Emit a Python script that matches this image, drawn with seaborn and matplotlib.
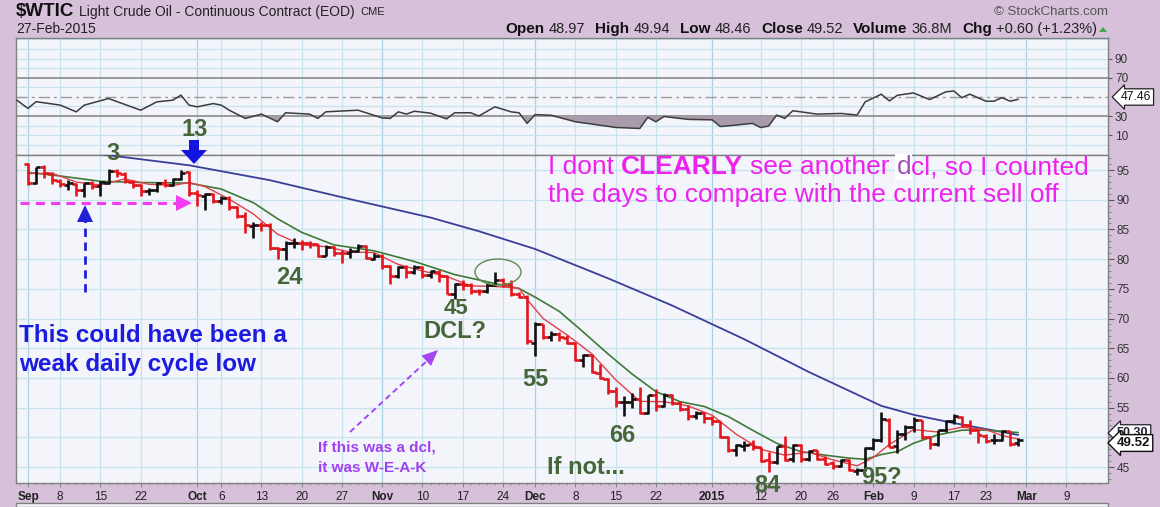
import matplotlib
matplotlib.use("Agg")
import matplotlib.pyplot as plt
import numpy as np
import pandas as pd
import seaborn as sns
from matplotlib.patches import Polygon, Ellipse, Rectangle
from matplotlib.lines import Line2D

# ---------------- data ----------------
prev_close = 95.96  # close before the first bar

sep_open = [95.95, 92.9, 95.5, 94.3, 93.2, 92.5, 92.7, 91.6, 92.8, 92.3, 92.9, 94.8, 94.3, 93.0, 92.4, 91.5, 91.6, 92.8, 92.5, 93.5, 94.6]
sep_high = [96.14, 95.59, 95.8, 94.7, 93.5, 93.3, 92.9, 92.9, 93.2, 93.1, 95.1, 95.2, 94.6, 93.4, 92.6, 92.0, 93.0, 93.5, 93.7, 95.0, 94.9]
sep_low = [92.51, 92.7, 93.7, 92.6, 92.2, 91.6, 90.6, 90.4, 91.8, 90.6, 92.6, 93.9, 92.9, 91.9, 90.6, 90.8, 91.3, 92.2, 92.3, 93.3, 90.7]
sep_close = [92.88, 95.54, 94.45, 93.29, 92.66, 92.75, 91.67, 92.83, 92.27, 92.92, 94.88, 94.42, 93.07, 92.41, 91.52, 91.56, 92.80, 92.53, 93.54, 94.57, 91.16]

oct_open = [91.2, 90.7, 90.9, 89.8, 90.3, 88.8, 87.3, 85.6, 85.8, 85.7, 81.8, 81.7, 82.7, 82.7, 82.7, 82.5, 80.6, 82.1, 81.0, 81.0, 81.4, 82.2, 80.1]
oct_high = [91.6, 91.2, 91.2, 90.7, 90.6, 89.0, 88.0, 86.2, 86.3, 86.0, 82.1, 83.0, 83.6, 83.3, 83.0, 82.6, 82.3, 82.2, 81.6, 81.8, 82.5, 82.4, 81.1]
oct_low = [88.9, 88.2, 89.4, 89.2, 88.3, 86.9, 84.4, 83.6, 84.8, 81.6, 80.0, 79.8, 81.8, 81.6, 81.8, 80.3, 80.5, 80.6, 79.4, 80.2, 81.2, 80.0, 79.9]
oct_close = [90.73, 91.01, 89.74, 90.34, 88.85, 87.31, 85.77, 85.82, 85.74, 81.84, 81.78, 82.70, 82.75, 82.71, 82.49, 80.52, 82.09, 81.01, 81.00, 81.42, 82.20, 80.12, 80.54]

nov_open = [80.5, 78.8, 77.2, 78.7, 77.9, 78.6, 77.4, 77.9, 77.2, 74.2, 75.8, 75.6, 74.6, 74.6, 75.6, 76.5, 75.8, 74.1, 73.7]
nov_high = [80.8, 79.0, 78.9, 79.0, 79.0, 78.9, 78.2, 78.1, 77.3, 76.0, 76.5, 75.9, 75.0, 76.0, 77.8, 76.9, 76.5, 74.5, 73.9]
nov_low = [78.3, 75.8, 76.8, 76.8, 77.5, 76.9, 76.8, 76.2, 74.1, 73.25, 74.8, 74.1, 74.0, 74.3, 75.4, 75.3, 73.8, 73.4, 65.7]
nov_close = [78.78, 77.19, 78.68, 77.91, 78.65, 77.40, 77.94, 77.18, 74.21, 75.82, 75.64, 74.61, 74.58, 75.58, 76.51, 75.78, 74.09, 73.69, 66.15]

dec_open = [65.9, 69.0, 66.9, 67.4, 66.8, 65.8, 63.0, 63.8, 60.9, 59.9, 57.8, 55.9, 55.9, 56.5, 54.1, 57.1, 55.3, 57.1, 55.8, 54.7, 53.6, 54.1]
dec_high = [69.4, 69.1, 67.9, 67.7, 67.2, 66.0, 64.1, 64.0, 62.4, 60.0, 58.5, 56.9, 57.4, 58.5, 57.2, 58.2, 57.4, 57.3, 56.1, 55.4, 54.4, 54.2]
dec_low = [63.7, 66.6, 66.3, 66.2, 65.7, 62.8, 61.9, 60.8, 59.8, 57.3, 55.1, 53.6, 54.9, 54.0, 54.0, 54.4, 55.1, 55.5, 54.5, 52.9, 53.1, 52.4]
dec_close = [69.00, 66.88, 67.38, 66.81, 65.84, 63.05, 63.82, 60.94, 59.95, 57.81, 55.91, 55.93, 56.47, 54.11, 57.13, 55.26, 57.12, 55.84, 54.73, 53.61, 54.12, 53.27]

jan_open = [53.3, 52.7, 50.0, 47.9, 48.6, 48.8, 48.4, 46.1, 45.9, 48.5, 46.3, 48.7, 46.4, 47.8, 46.3, 45.6, 45.2, 46.2, 44.4, 44.5]
jan_high = [53.6, 52.7, 50.2, 48.9, 49.3, 49.6, 48.4, 47.5, 48.6, 50.2, 48.8, 48.8, 47.9, 47.9, 46.8, 46.0, 46.4, 46.3, 44.9, 48.3]
jan_low = [52.0, 49.9, 47.5, 46.8, 47.7, 47.8, 45.9, 44.2, 45.5, 46.0, 45.8, 45.8, 46.0, 46.2, 45.3, 44.6, 45.0, 44.3, 43.6, 44.4]
jan_close = [52.69, 50.04, 47.93, 48.65, 48.79, 48.36, 46.07, 45.89, 48.48, 46.25, 48.69, 46.39, 47.78, 46.31, 45.59, 45.15, 46.23, 44.45, 44.53, 48.24]

feb_open = [48.2, 49.6, 53.0, 48.5, 50.5, 51.7, 52.9, 50.0, 48.8, 51.2, 52.8, 53.5, 52.1, 51.2, 50.3, 49.5, 49.6, 51.0, 48.97]
feb_high = [49.9, 54.2, 53.3, 51.3, 52.0, 53.5, 53.0, 50.2, 51.3, 53.0, 54.0, 53.6, 52.9, 51.4, 50.6, 50.5, 51.3, 51.0, 49.94]
feb_low = [47.8, 49.2, 48.4, 47.3, 49.6, 50.9, 49.7, 48.0, 48.6, 50.9, 52.3, 51.7, 50.6, 49.1, 49.0, 48.8, 49.3, 48.5, 48.46]
feb_close = [49.57, 53.05, 48.45, 50.48, 51.69, 52.86, 50.02, 48.84, 51.21, 52.78, 53.53, 52.14, 51.16, 50.34, 49.45, 49.61, 50.99, 48.92, 49.52]

# moving averages (trading-day index, value)
red_idx = [0, 3, 6, 9, 12, 15, 18, 20, 22, 25, 28, 31, 34, 37, 40, 43, 46, 49, 52, 55, 58, 61, 62, 64, 67, 70, 73, 76, 79, 82, 85, 88, 91, 94, 97, 100, 103, 105, 107, 110, 113, 116, 119, 121, 123]
red_val = [94.4, 94.46, 92.96, 92.49, 93.5, 92.6, 92.4, 92.9, 92.2, 90.1, 87.6, 84.2, 82.4, 82.1, 81.2, 81.1, 79.1, 78.0, 77.1, 75.5, 75.4, 75.1, 73.2, 70.0, 67.2, 64.1, 59.7, 56.05, 56.0, 55.3, 53.7, 50.5, 48.0, 47.0, 47.5, 46.2, 45.2, 46.6, 48.8, 51.3, 50.9, 51.7, 51.3, 50.3, 49.7]
green_idx = [0, 4, 9, 14, 20, 24, 28, 31, 34, 38, 43, 48, 53, 58, 61, 63, 66, 69, 72, 75, 78, 81, 84, 87, 90, 93, 96, 99, 102, 104, 106, 108, 110, 113, 116, 119, 121, 123]
green_val = [94.6, 94.0, 93.1, 92.9, 92.8, 91.8, 89.5, 86.8, 84.5, 82.4, 81.4, 79.6, 77.4, 75.9, 75.05, 73.6, 71.2, 67.7, 64.1, 60.7, 57.7, 56.0, 55.2, 53.5, 51.2, 49.0, 47.6, 47.0, 46.5, 46.3, 47.1, 47.6, 49.0, 50.4, 51.2, 51.2, 51.0, 50.8]
blue_idx = [0, 7, 20, 30, 40, 50, 56, 63, 72, 80, 89, 97, 106, 110, 115, 119, 123]
blue_val = [99.3, 98.0, 95.8, 93.3, 90.1, 87.0, 84.7, 81.7, 76.8, 72.2, 66.5, 61.0, 55.3, 53.8, 52.4, 51.4, 50.4]

# RSI (14)
rsi_idx = [-1.4, 0, 1, 4, 6, 7, 10, 14, 16, 18, 19, 20, 21, 23, 24, 25, 27, 29, 31, 32, 35, 36, 37, 41, 44, 45, 46, 47, 48, 50, 52, 53, 55, 56, 58, 60, 61, 62, 63, 65, 68, 73, 76, 77, 78, 79, 82, 85, 86, 88, 90, 91, 92, 93, 94, 95, 96, 98, 101, 103, 104, 106, 107, 108, 110, 112, 114, 115, 116, 117, 119, 120, 121, 122, 123]
rsi_val = [46.6, 38.0, 45.0, 41.4, 34.4, 41.4, 48.3, 36.1, 44.8, 46.6, 51.8, 41.4, 39.6, 43.0, 41.4, 36.1, 27.5, 32.0, 24.0, 33.4, 32.0, 27.5, 34.4, 36.1, 28.0, 27.5, 34.4, 32.0, 35.0, 33.0, 27.0, 33.4, 33.4, 30.0, 39.6, 34.4, 33.4, 22.3, 31.5, 30.8, 24.0, 18.1, 17.0, 28.6, 24.0, 29.5, 26.5, 26.0, 19.0, 20.6, 22.3, 18.0, 19.5, 31.0, 27.5, 35.5, 34.4, 32.0, 32.7, 31.0, 44.8, 52.8, 45.8, 51.7, 54.1, 47.2, 55.2, 56.2, 49.2, 52.8, 45.5, 45.5, 49.2, 45.5, 47.46]

# x-axis labels (trading-day index of each label)
tick_idx = [0, 4, 9, 14, 21, 24, 29, 34, 39, 44, 49, 54, 59, 63, 68, 73, 78, 85, 91, 96, 100, 105, 110, 115, 119, 124, 129]
tick_lab = ["Sep", "8", "15", "22", "Oct", "6", "13", "20", "27", "Nov", "10", "17", "24", "Dec", "8", "15", "22", "2015", "12", "20", "26", "Feb", "9", "17", "23", "Mar", "9"]
month_lab = {"Sep", "Oct", "Nov", "Dec", "2015", "Feb", "Mar"}

price_ticks = [45, 55, 60, 65, 70, 75, 80, 85, 90, 95]
rsi_ticks = [10, 30, 70, 90]

opens = sep_open + oct_open + nov_open + dec_open + jan_open + feb_open
highs = sep_high + oct_high + nov_high + dec_high + jan_high + feb_high
lows = sep_low + oct_low + nov_low + dec_low + jan_low + feb_low
closes = sep_close + oct_close + nov_close + dec_close + jan_close + feb_close

# ---------------- style ----------------
sns.set_theme(style="white")
plt.rcParams['font.family'] = ['Liberation Sans', 'DejaVu Sans']

W, H = 1160, 507
BG = '#D6C0DA'
PANEL = '#F3F5FB'
GRID = '#C6E4EE'
GRID_M = '#A9D3E2'
GREEN_T = '#46663A'

fig = plt.figure(figsize=(W / 100, H / 100), dpi=100, facecolor=BG)


def fx(x):
    return x / W


def fy(y):
    return 1 - y / H


L, R = 16, 1108
T_RSI, B_RSI, B_MAIN = 38, 155, 483
X0, DX = 28.0, 8.05
xl = ((L - X0) / DX, (R - X0) / DX)

ax_rsi = fig.add_axes([fx(L), fy(B_RSI), (R - L) / W, (B_RSI - T_RSI) / H])
ax = fig.add_axes([fx(L), fy(B_MAIN), (R - L) / W, (B_MAIN - B_RSI) / H])

for a in (ax, ax_rsi):
    a.set_facecolor(PANEL)
    a.set_xlim(*xl)
    for s in a.spines.values():
        s.set_color('#808080')
        s.set_linewidth(1.0)
    for ti, lab in zip(tick_idx, tick_lab):
        a.axvline(ti, color=GRID_M if lab in month_lab else GRID, lw=0.9, zorder=0)

# ---------------- price panel ----------------
ax.set_ylim(42.31, 97.53)
for v in range(45, 100, 5):
    ax.axhline(v, color=GRID, lw=0.9, zorder=0)

idx = np.arange(len(closes))
prev = np.r_[prev_close, closes[:-1]]
cols = np.where(np.array(closes) >= prev, '#111111', '#E3161C')
ax.vlines(idx, lows, highs, colors=cols, lw=1.9, zorder=4)
ax.hlines(opens, idx - 0.55, idx, colors=cols, lw=1.9, zorder=4)
ax.hlines(closes, idx, idx + 0.55, colors=cols, lw=1.9, zorder=4)

sns.lineplot(x=blue_idx, y=blue_val, ax=ax, color='#3A3E96', lw=1.3, zorder=3)
sns.lineplot(x=green_idx, y=green_val, ax=ax, color='#3F7A35', lw=1.2, zorder=3)
sns.lineplot(x=red_idx, y=red_val, ax=ax, color='#E0404A', lw=1.0, zorder=3)

ax.yaxis.tick_right()
ax.set_yticks(price_ticks)
ax.set_yticklabels([str(t) for t in price_ticks])
ax.set_yticks(np.arange(43, 98, 1), minor=True)
ax.tick_params(axis='y', which='major', right=True, length=4, width=0.8, color='#555',
               labelsize=8.5, labelcolor='#333', pad=2)
ax.tick_params(axis='y', which='minor', right=True, length=2, width=0.6, color='#777')
ax.set_xticks(tick_idx)
ax.set_xticklabels(tick_lab)
ax.set_xticks(np.arange(-1, 134, 1), minor=True)
ax.tick_params(axis='x', which='major', bottom=True, length=3, width=0.6, color='#777',
               labelsize=8.5, labelcolor='#222', pad=3)
ax.tick_params(axis='x', which='minor', bottom=True, length=1.5, width=0.5, color='#888')
for t in ax.get_xticklabels():
    if t.get_text() in month_lab:
        t.set_fontweight('bold')
ax.set_xlabel('')
ax.set_ylabel('')

# ---------------- RSI panel ----------------
ax_rsi.set_ylim(-10.7, 111.5)
for v in range(0, 111, 10):
    if v not in (30, 50, 70):
        ax_rsi.axhline(v, color=GRID, lw=0.9, zorder=0)
ax_rsi.axhline(70, color='#8A8A8A', lw=1.2, zorder=1)
ax_rsi.axhline(30, color='#8A8A8A', lw=1.2, zorder=1)
ax_rsi.axhline(50, color='#9A9A9A', lw=1.0, ls=(0, (8, 3, 2, 3)), zorder=1)
r_i = np.array(rsi_idx, dtype=float)
r_v = np.array(rsi_val, dtype=float)
ax_rsi.fill_between(r_i, r_v, 30, where=r_v < 30, interpolate=True, color='#AA9BAC', lw=0, zorder=2)
sns.lineplot(x=rsi_idx, y=rsi_val, ax=ax_rsi, color='#3C3C3C', lw=1.1, zorder=3)
ax_rsi.yaxis.tick_right()
ax_rsi.set_yticks(rsi_ticks)
ax_rsi.set_yticklabels([str(t) for t in rsi_ticks])
ax_rsi.tick_params(axis='y', right=True, length=3, width=0.8, color='#555', labelsize=8.5,
                   labelcolor='#333', pad=2)
ax_rsi.set_xticks([])
ax_rsi.set_xlabel('')
ax_rsi.set_ylabel('')

# bottom (next panel) strip
fig.add_artist(Rectangle((fx(L), 0), (R - L) / W, 4 / H, transform=fig.transFigure,
                         fc=PANEL, ec='#808080', lw=1.0))

renderer = fig.canvas.get_renderer()


def seq(parts, x, y, align='left'):
    arts, widths = [], []
    for s, kw, gap in parts:
        t = fig.text(0, fy(y), s, va='center', ha='left', parse_math=False, **kw)
        bb = t.get_window_extent(renderer=renderer)
        arts.append(t)
        widths.append(bb.width + gap)
    total = sum(widths)
    cur = x if align == 'left' else x - total
    for t, w in zip(arts, widths):
        t.set_x(fx(cur))
        cur += w
    return cur


# ---------------- header ----------------
seq([("$WTIC", dict(fontsize=13.5, fontweight='bold', color='#111'), 5),
     ("Light Crude Oil - Continuous Contract (EOD)", dict(fontsize=10, color='#222'), 5),
     ("CME", dict(fontsize=8, color='#222'), 0)], 16, 12)
fig.text(fx(16), fy(29), "27-Feb-2015", fontsize=10, color='#222', va='center', ha='left')
fig.text(fx(1108), fy(12), "\u00a9 StockCharts.com", fontsize=9.5, color='#555', va='center', ha='right')
B = dict(fontsize=11, fontweight='bold', color='#111')
N = dict(fontsize=10.5, color='#222')
seq([("Open", B, 4), ("48.97", N, 10), ("High", B, 4), ("49.94", N, 10),
     ("Low", B, 4), ("48.46", N, 10), ("Close", B, 4), ("49.52", N, 10),
     ("Volume", B, 4), ("36.8M", N, 10), ("Chg", B, 4), ("+0.60 (+1.23%)", N, 0)], 1097, 29, align='right')
fig.add_artist(Polygon([(fx(1099), fy(32)), (fx(1107), fy(32)), (fx(1103), fy(27))], closed=True,
                       transform=fig.transFigure, fc='#3DAA4A', ec='none'))

# right-hand value boxes
fig.text(fx(1121), fy(97), "47.46", fontsize=8.8, color='#111', va='center', ha='left',
         bbox=dict(boxstyle='larrow,pad=0.18', fc='white', ec='#222', lw=0.9))
fig.text(fx(1117), fy(433), "50.30", fontsize=9, fontweight='bold', color='#223', va='center', ha='left',
         bbox=dict(boxstyle='larrow,pad=0.18', fc='white', ec='#223', lw=0.9))
fig.text(fx(1117), fy(443), "49.52", fontsize=9.5, fontweight='bold', color='#111', va='center', ha='left',
         bbox=dict(boxstyle='larrow,pad=0.18', fc='white', ec='#111', lw=1.0))

# ---------------- annotations ----------------
GB = dict(fontsize=17, fontweight='bold', color=GREEN_T, ha='center', va='center')
fig.text(fx(113), fy(153), "3", **GB)
fig.text(fx(195), fy(129), "13", **GB)
fig.text(fx(289), fy(277), "24", **GB)
fig.text(fx(456), fy(308), "45", fontsize=16, fontweight='bold', color=GREEN_T, ha='center', va='center')
fig.text(fx(455), fy(332), "DCL?", **GB)
fig.text(fx(535), fy(380), "55", **GB)
fig.text(fx(622), fy(435), "66", **GB)
fig.text(fx(767), fy(485), "84", **GB)
fig.text(fx(881), fy(478), "95?", **GB)
fig.text(fx(547), fy(468), "If not...", fontsize=17, fontweight='bold', color=GREEN_T, ha='left', va='center')

# blue down arrow at "13"
fig.add_artist(Polygon([(fx(189), fy(140)), (fx(199), fy(140)), (fx(199), fy(150)), (fx(207), fy(150)),
                        (fx(194), fy(164)), (fx(181), fy(150)), (fx(189), fy(150))], closed=True,
                       transform=fig.transFigure, fc='#1414E0', ec='none', zorder=10))

# magenta dashed arrow
fig.add_artist(Line2D([fx(20), fx(178)], [fy(203), fy(203)], transform=fig.transFigure,
                      color='#F23CF0', lw=2.2, ls=(0, (3, 2)), zorder=10))
fig.add_artist(Polygon([(fx(176), fy(195)), (fx(176), fy(211)), (fx(192), fy(203))], closed=True,
                       transform=fig.transFigure, fc='#F23CF0', ec='none', zorder=10))
# blue dashed vertical arrow
fig.add_artist(Line2D([fx(85), fx(85)], [fy(292), fy(220)], transform=fig.transFigure,
                      color='#2020D8', lw=2.0, ls=(0, (3, 2)), zorder=10))
fig.add_artist(Polygon([(fx(77), fy(222)), (fx(93), fy(222)), (fx(85), fy(205))], closed=True,
                       transform=fig.transFigure, fc='#2020D8', ec='none', zorder=10))
# purple dashed arrow
fig.add_artist(Line2D([fx(350), fx(429)], [fy(432), fy(359)], transform=fig.transFigure,
                      color='#A645F2', lw=1.4, ls=(0, (3, 2)), zorder=10))
ang = np.arctan2(-(352 - 432), 437 - 350)
hx, hy = 438, 350
bx, by = hx - 16 * np.cos(ang), hy + 16 * np.sin(ang)
px_, py_ = -np.sin(ang) * 7, -np.cos(ang) * 7
fig.add_artist(Polygon([(fx(hx), fy(hy)), (fx(bx + px_), fy(by + py_)), (fx(bx - px_), fy(by - py_))],
                       closed=True, transform=fig.transFigure, fc='#A645F2', ec='none', zorder=10))

# ellipse round the top
fig.add_artist(Ellipse((fx(498), fy(272)), 46 / W, 26 / H, transform=fig.transFigure,
                       fc='none', ec='#5E8C52', lw=1.0, zorder=10))

# blue text
BT = dict(fontsize=17.5, fontweight='bold', color='#1C1CE0', ha='left', va='center')
fig.text(fx(19), fy(336), "This could have been a", **BT)
fig.text(fx(19), fy(365), "weak daily cycle low", **BT)

# purple small text
PT = dict(fontsize=11, fontweight='bold', color='#A040F0', ha='left', va='center')
fig.text(fx(318), fy(447), "If this was a dcl,", **PT)
fig.text(fx(318), fy(468), "it was W-E-A-K", **PT)

# magenta text
MN = dict(fontsize=19, color='#EE22EE')
MB = dict(fontsize=19, color='#EE22EE', fontweight='bold')
seq([("I dont", MN, 7), ("CLEARLY", MB, 7), ("see another", MN, 7),
     ("d", dict(fontsize=19, color='#A050B8', bbox=dict(fc='white', ec='none', pad=1)), 0),
     ("cl, so I counted", MN, 0)], 548, 167)
fig.text(fx(548), fy(195), "the days to compare with the current sell off", ha='left', va='center', **MN)

fig.savefig("out.png", dpi=100, facecolor=BG)
